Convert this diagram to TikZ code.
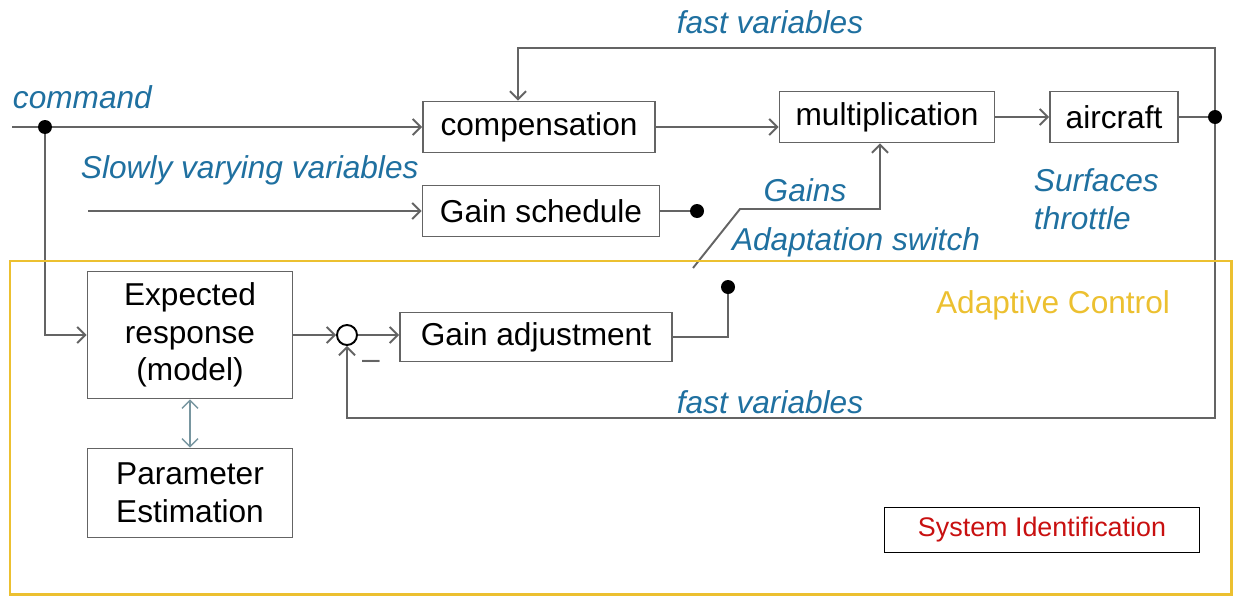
\documentclass[tikz,border=0pt]{standalone}
\usepackage{fontspec}
\setmainfont{Liberation Sans}
\usetikzlibrary{arrows.meta,backgrounds}
\definecolor{labelblue}{RGB}{31,112,160}
\definecolor{adaptgold}{RGB}{236,192,48}
\definecolor{linegray}{RGB}{100,100,100}
\definecolor{sysred}{RGB}{200,16,16}
\definecolor{estteal}{RGB}{120,150,160}

\begin{document}
\begin{tikzpicture}[
        >={Straight Barb[length=1.6mm,width=3.2mm]},
        line width=1.1pt, draw=linegray,
        block/.style={draw=linegray, line width=1.1pt, inner sep=0pt, align=center,
            font=\fontsize{18}{21.5}\selectfont},
        lbl/.style={text=labelblue, font=\fontsize{18}{21.5}\selectfont\itshape, inner sep=0pt},
        junction/.style={circle, fill=black, inner sep=0pt, minimum size=0.28cm},
        wire/.style={draw=linegray, line width=1.1pt}
    ]
        \useasboundingbox (0,0) rectangle (24.66,-11.92);
        \path[draw=adaptgold, line width=1.7pt] (0.2,-5.22) rectangle (24.62,-11.88);

        \node[block, minimum width=4.64cm, minimum height=1.02cm] (comp) at (10.78,-2.54) {compensation};
        \node[block, minimum width=4.74cm, minimum height=1.02cm] (gsched) at (10.82,-4.22) {Gain schedule};
        \node[block, minimum width=4.30cm, minimum height=1.02cm] (mult) at (17.74,-2.34) {multiplication};
        \node[block, minimum width=2.56cm, minimum height=1.02cm] (air) at (22.28,-2.34) {aircraft};
        \node[block, minimum width=4.10cm, minimum height=2.54cm] (expresp) at (3.8,-6.7) {Expected\\response\\(model)};
        \node[block, minimum width=5.44cm, minimum height=0.98cm] (gadj) at (10.72,-6.74) {Gain adjustment};
        \node[block, minimum width=4.10cm, minimum height=1.78cm] (paramest) at (3.8,-9.86) {Parameter\\Estimation};
        \node[draw=black, line width=0.8pt, minimum width=6.3cm, minimum height=0.9cm,
            text=sysred, font=\fontsize{15.3}{18}\selectfont] (sysid) at (20.84,-10.6) {System Identification};
        \node[draw=black, line width=1.1pt, circle, inner sep=0pt, minimum size=0.4cm] (sum) at (6.94,-6.7) {};

        \node[junction] (cmddot) at (0.9,-2.54) {};
        \node[junction] (gsdot) at (13.94,-4.22) {};
        \node[junction] (outdot) at (24.3,-2.34) {};
        \node[junction] (adjdot) at (14.56,-5.74) {};
        \coordinate (cmdin) at (0.24,-2.54);
        \coordinate (svin) at (1.76,-4.22);
        \coordinate (topfb) at (24.3,-0.96);
        \coordinate (botfb) at (24.3,-8.36);
        \coordinate (swtip) at (13.86,-5.36);
        \coordinate (swknee) at (14.8,-4.18);

        \begin{scope}[on background layer]
        \draw[wire, ->] (cmdin) -- (comp.west);
        \draw[wire, ->] (cmddot.center) |- (expresp.west);
        \draw[wire, ->] (svin) -- (gsched.west);
        \draw[wire] (gsched.east) -- (gsdot.center);
        \draw[wire, ->] (comp.east) -- (comp.east -| mult.west);
        \draw[wire, ->] (mult.east |- air.west) -- (air.west);
        \draw[wire] (air.east) -- (outdot.center);
        \draw[wire, ->] (outdot.center) -- (topfb) -| ([xshift=-0.42cm]comp.north);
        \draw[wire, ->] (outdot.center) -- (botfb) -| (sum.south);
        \draw[wire, ->] (expresp.east) -- (sum.west);
        \draw[wire, ->] (sum.east) -- (sum.east -| gadj.west);
        \draw[wire] (gadj.east) -| (adjdot.center);
        \draw[wire, ->] (swtip) -- (swknee) -| ([xshift=-0.14cm]mult.south);
        \draw[draw=estteal, line width=0.8pt, <->] (expresp.south) -- (paramest.north);
        \end{scope}

        \node[lbl, anchor=west] (cmdlbl) at (0.24,-1.94) {command};
        \node[lbl] (fasttop) at (15.4,-0.44) {fast variables};
        \node[lbl, anchor=west] (svlbl) at (1.6,-3.4) {Slowly varying variables};
        \node[lbl] (gainslbl) at (16.1,-3.8) {Gains};
        \node[lbl, anchor=west, align=left] (surflbl) at (20.66,-3.98) {Surfaces\\throttle};
        \node[lbl] (switchlbl) at (17.12,-4.84) {Adaptation switch};
        \node[lbl] (fastbot) at (15.4,-8.04) {fast variables};
        \node[text=adaptgold, font=\fontsize{18}{21.5}\selectfont, inner sep=0pt] (adaptlbl) at (21.06,-6.1) {Adaptive Control};
        \node[text=linegray, font=\fontsize{18}{21.5}\selectfont, inner sep=0pt] (minus) at (7.42,-7.3) {\textendash};
\end{tikzpicture}
\end{document}
